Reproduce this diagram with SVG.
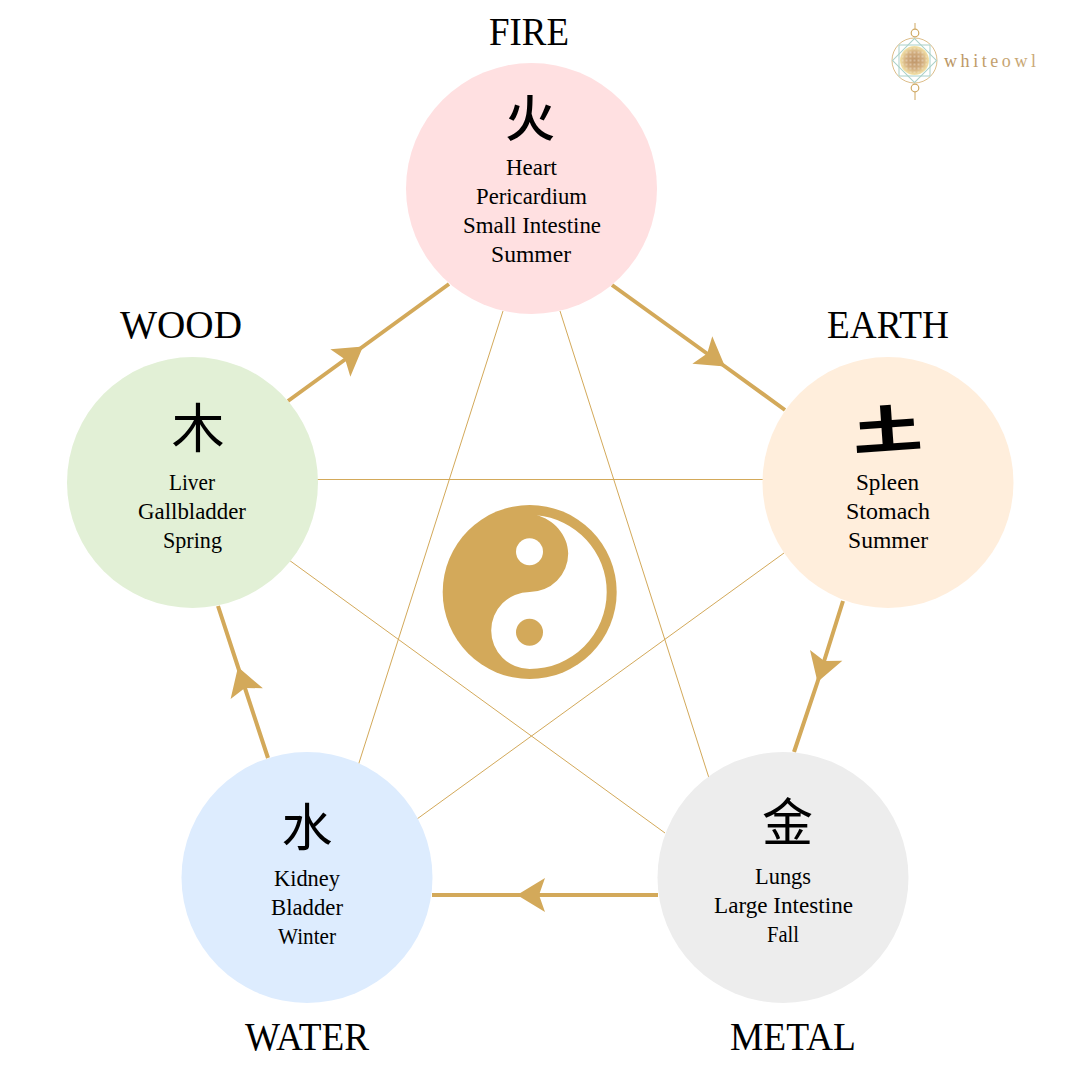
<svg xmlns="http://www.w3.org/2000/svg" width="1080" height="1080" viewBox="0 0 1080 1080">
<style>
.h{font-family:"Liberation Serif","Times New Roman",serif;font-size:39px;fill:#000}
.b{font-family:"Liberation Serif","Times New Roman",serif;font-size:22.5px;fill:#000}
.g{font-family:"Noto Sans CJK SC","Noto Sans CJK JP",sans-serif;fill:#000;text-anchor:middle}
.thick{fill:none;stroke:#D3A95A;stroke-width:4;marker-mid:url(#arrow)}
.thin{stroke:#D3A95A;stroke-width:1;fill:none}
</style>
<defs>
<marker id="arrow" markerUnits="userSpaceOnUse" markerWidth="30" markerHeight="36" viewBox="0 0 30 36" refX="29" refY="18" orient="auto">
<path d="M1,1 L29,18 L1,35 L7,18 Z" fill="#D3A95A"/>
</marker>
<radialGradient id="fl" cx="50%" cy="50%" r="50%"><stop offset="0" stop-color="#BE9468"/><stop offset=".6" stop-color="#D2AE80"/><stop offset="1" stop-color="#F4E3A6"/></radialGradient>
<pattern id="dots" width="4" height="4" patternUnits="userSpaceOnUse" x="912.5" y="58.500"><circle cx="2" cy="2" r="1" fill="#F6EEDF"/></pattern>
<linearGradient id="lg" x1="0" x2="1" y1="0" y2="0"><stop offset="0" stop-color="#B89260"/><stop offset="1" stop-color="#CBAA78"/></linearGradient>
</defs>
<rect width="1080" height="1080" fill="#fff"/>
<g id="connectors">
<line class="thin" x1="317" y1="479.5" x2="763" y2="479.5"/>
<line class="thin" x1="503" y1="311" x2="358" y2="766"/>
<line class="thin" x1="560" y1="311" x2="709" y2="778"/>
<line class="thin" x1="289" y1="560" x2="665" y2="833"/>
<line class="thin" x1="784" y1="553" x2="417" y2="819"/>
<polyline class="thick" points="288,401 363,346.5 449,284"/>
<polyline class="thick" points="612,285 725,366.5 785,410"/>
<polyline class="thick" points="843,601 817.500,682 794,752"/>
<polyline class="thick" points="658,895 517,895 432,895"/>
<polyline class="thick" points="268,758 238,667 218,606"/>
</g>
<g id="yinyang">
<circle cx="529.7" cy="592" r="87" fill="#D3A95A"/>
<path d="M536.5,515.3 A77,77 0 0 1 606.7,592 A77,77 0 0 1 529.7,669 A38.5,38.5 0 0 1 529.7,592 A38.5,38.5 0 0 0 568.2,553.500 C568.2,535 553,519 536.5,515.3 Z" fill="#fff"/>
<circle cx="529.5" cy="551.7" r="13.5" fill="#fff"/>
<circle cx="529.5" cy="632.3" r="13.5" fill="#D3A95A"/>
</g>
<g id="fire">
<circle cx="531.5" cy="188.5" r="125.5" fill="#FFE0E1"/>
<text class="h" x="489" y="45" textLength="80" lengthAdjust="spacingAndGlyphs">FIRE</text>
<text class="g" x="530" y="137" font-size="50" font-weight="500">火</text>
<text class="b" x="506" y="175" textLength="51" lengthAdjust="spacingAndGlyphs">Heart</text>
<text class="b" x="476" y="204" textLength="111" lengthAdjust="spacingAndGlyphs">Pericardium</text>
<text class="b" x="463" y="233" textLength="138" lengthAdjust="spacingAndGlyphs">Small Intestine</text>
<text class="b" x="491" y="262" textLength="80" lengthAdjust="spacingAndGlyphs">Summer</text>
</g>
<g id="earth">
<circle cx="888" cy="482.5" r="125.5" fill="#FFEEDC"/>
<text class="h" x="827" y="338" textLength="122" lengthAdjust="spacingAndGlyphs">EARTH</text>
<text class="g" font-size="60" font-weight="900" transform="translate(888.500 448) rotate(-4) scale(1.15 0.84)">土</text>
<text class="b" x="856" y="490" textLength="63" lengthAdjust="spacingAndGlyphs">Spleen</text>
<text class="b" x="846" y="519" textLength="84" lengthAdjust="spacingAndGlyphs">Stomach</text>
<text class="b" x="848" y="548" textLength="80" lengthAdjust="spacingAndGlyphs">Summer</text>
</g>
<g id="wood">
<circle cx="192.5" cy="482.5" r="125.5" fill="#E2F0D6"/>
<text class="h" x="120" y="338" textLength="122" lengthAdjust="spacingAndGlyphs">WOOD</text>
<text class="g" x="198" y="448" font-size="53" font-weight="400">木</text>
<text class="b" x="169" y="490" textLength="46" lengthAdjust="spacingAndGlyphs">Liver</text>
<text class="b" x="138" y="519" textLength="108" lengthAdjust="spacingAndGlyphs">Gallbladder</text>
<text class="b" x="163" y="548" textLength="59" lengthAdjust="spacingAndGlyphs">Spring</text>
</g>
<g id="water">
<circle cx="307" cy="877.5" r="125.5" fill="#DDECFE"/>
<text class="h" x="245" y="1050" textLength="124" lengthAdjust="spacingAndGlyphs">WATER</text>
<text class="g" x="307" y="846" font-size="51" font-weight="400">水</text>
<text class="b" x="274" y="886" textLength="66" lengthAdjust="spacingAndGlyphs">Kidney</text>
<text class="b" x="271" y="915" textLength="72" lengthAdjust="spacingAndGlyphs">Bladder</text>
<text class="b" x="278" y="944" textLength="58" lengthAdjust="spacingAndGlyphs">Winter</text>
</g>
<g id="metal">
<circle cx="783" cy="877.5" r="125.5" fill="#EDEDED"/>
<text class="h" x="730" y="1050" textLength="126" lengthAdjust="spacingAndGlyphs">METAL</text>
<text class="g" x="787.500" y="841" font-size="51" font-weight="400">金</text>
<text class="b" x="755" y="884" textLength="56" lengthAdjust="spacingAndGlyphs">Lungs</text>
<text class="b" x="714" y="913" textLength="139" lengthAdjust="spacingAndGlyphs">Large Intestine</text>
<text class="b" x="767" y="942" textLength="32" lengthAdjust="spacingAndGlyphs">Fall</text>
</g>
<g id="logo">
<circle cx="914.5" cy="60.5" r="22.5" fill="none" stroke="#DDBE8A" stroke-width="1"/>
<rect x="899" y="45" width="31" height="31" fill="none" stroke="#A9D0C8" stroke-width="1"/>
<rect x="899" y="45" width="31" height="31" fill="none" stroke="#A9D0C8" stroke-width="1" transform="rotate(45 914.5 60.5)"/>
<circle cx="914.5" cy="60.5" r="14.5" fill="url(#fl)"/>
<circle cx="914.5" cy="60.5" r="13" fill="url(#dots)" opacity=".55"/>
<circle cx="915" cy="33" r="3.8" fill="none" stroke="#CFA862" stroke-width="1.2"/>
<circle cx="915" cy="88" r="3.8" fill="none" stroke="#CFA862" stroke-width="1.2"/>
<path d="M915,23V29M915,92V100" stroke="#CFA862" stroke-width="1" fill="none"/>
<text x="944" y="67" textLength="92" style="font-family:'Liberation Serif',serif;font-size:18px;fill:url(#lg)">whiteowl</text>
</g>
</svg>
